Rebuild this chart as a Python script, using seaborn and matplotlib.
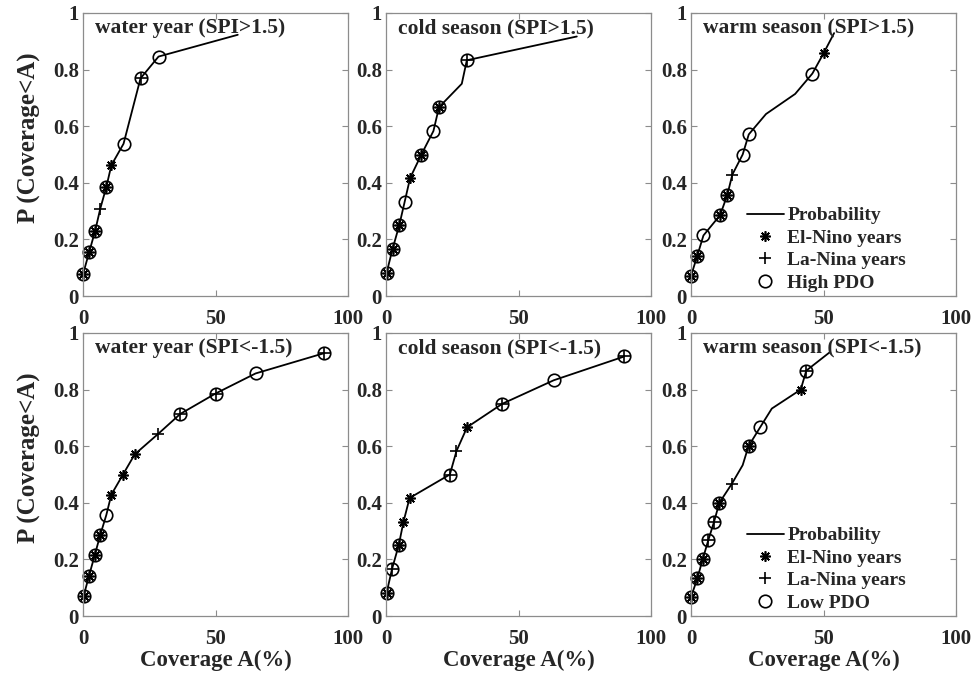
import matplotlib
matplotlib.use("Agg")
import matplotlib.pyplot as plt
from matplotlib.lines import Line2D
import seaborn as sns
import pandas as pd

# ---------------- data ----------------
titles = ["water year (SPI>1.5)", "cold season (SPI>1.5)", "warm season (SPI>1.5)",
          "water year (SPI<-1.5)", "cold season (SPI<-1.5)", "warm season (SPI<-1.5)"]

cov1 = [0.0, 2.3, 4.6, 6.5, 8.8, 10.7, 15.3, 21.7, 28.5, 58.4]
prob1 = [0.077, 0.154, 0.231, 0.308, 0.385, 0.462, 0.538, 0.769, 0.846, 0.923]
enso1 = ['E', 'E', 'E', 'L', 'E', 'E', '', 'L', '', '']
pdo1 = [1, 1, 1, 0, 1, 0, 1, 1, 1, 0]

cov2 = [0.25, 2.5, 5.0, 7.05, 9.1, 13.35, 17.9, 20.0, 28.6, 30.5, 72.0]
prob2 = [0.083, 0.167, 0.25, 0.333, 0.417, 0.5, 0.583, 0.667, 0.75, 0.833, 0.917]
enso2 = ['E', 'E', 'E', '', 'E', 'E', '', 'E', '', 'L', '']
pdo2 = [1, 1, 1, 1, 0, 1, 1, 1, 0, 1, 0]

cov3 = [0.0, 2.4, 4.7, 11.0, 13.7, 15.6, 19.5, 21.8, 28.3, 39.3, 45.8, 50.0, 54.0]
prob3 = [0.071, 0.143, 0.214, 0.286, 0.357, 0.429, 0.5, 0.571, 0.643, 0.714, 0.786, 0.857, 0.929]
enso3 = ['E', 'E', '', 'E', 'E', 'L', '', '', '', '', '', 'E', '']
pdo3 = [1, 1, 1, 1, 1, 0, 1, 1, 0, 0, 1, 0, 0]

cov4 = [0.25, 2.3, 4.4, 6.5, 8.8, 10.7, 15.1, 19.5, 28.3, 36.7, 50.0, 65.1, 91.1]
prob4 = [0.071, 0.143, 0.214, 0.286, 0.357, 0.429, 0.5, 0.571, 0.643, 0.714, 0.786, 0.857, 0.929]
enso4 = ['E', 'E', 'E', 'E', '', 'E', 'E', 'E', 'L', 'L', 'L', '', 'L']
pdo4 = [1, 1, 1, 1, 1, 0, 0, 0, 0, 1, 1, 1, 1]

cov5 = [0.25, 2.3, 4.8, 6.6, 8.9, 24.1, 26.6, 30.6, 43.9, 63.3, 89.9]
prob5 = [0.083, 0.167, 0.25, 0.333, 0.417, 0.5, 0.583, 0.667, 0.75, 0.833, 0.917]
enso5 = ['E', 'L', 'E', 'E', 'E', 'L', 'L', 'E', 'L', '', 'L']
pdo5 = [1, 1, 1, 0, 0, 1, 0, 0, 1, 1, 1]

cov6 = [0.0, 2.4, 4.4, 6.5, 8.7, 10.7, 15.4, 19.5, 21.7, 26.1, 30.5, 41.4, 43.5, 52.5]
prob6 = [0.067, 0.133, 0.2, 0.267, 0.333, 0.4, 0.467, 0.533, 0.6, 0.667, 0.733, 0.8, 0.867, 0.933]
enso6 = ['E', 'E', 'E', 'L', 'L', 'E', 'L', '', 'E', '', '', 'E', 'L', '']
pdo6 = [1, 1, 1, 1, 1, 1, 0, 0, 1, 1, 0, 0, 1, 0]

legend_labels_top = ["Probability", "El-Nino years", "La-Nina years", "High PDO"]
legend_labels_bot = ["Probability", "El-Nino years", "La-Nina years", "Low PDO"]
xticks = [0, 50, 100]
xticklabels = ["0", "50", "100"]
yticks = [0, 0.2, 0.4, 0.6, 0.8, 1.0]
yticklabels = ["0", "0.2", "0.4", "0.6", "0.8", "1"]

panels = [(cov1, prob1, enso1, pdo1), (cov2, prob2, enso2, pdo2), (cov3, prob3, enso3, pdo3),
          (cov4, prob4, enso4, pdo4), (cov5, prob5, enso5, pdo5), (cov6, prob6, enso6, pdo6)]

# ---------------- style ----------------
sns.set_style("ticks")
plt.rcParams['font.family'] = ['Liberation Serif', 'DejaVu Serif']
plt.rcParams['font.weight'] = 'bold'

W, H = 972, 674
fig = plt.figure(figsize=(W / 100, H / 100), dpi=100)

col_left = [83, 386, 691]
row_bottom = [296, 616]
aw, ah = 265, 283
spine_col = '#8c8c8c'
ASTER = (8, 2, 0)

for i, (cov, prob, enso, pdo) in enumerate(panels):
    r, c = divmod(i, 3)
    ax = fig.add_axes([col_left[c] / W, 1 - row_bottom[r] / H, aw / W, ah / H])
    df = pd.DataFrame({"cov": cov, "prob": prob})
    sns.lineplot(data=df, x="cov", y="prob", sort=False, estimator=None,
                 color='black', lw=1.3, ax=ax)
    ex = [x for x, e in zip(cov, enso) if e == 'E']
    ey = [y for y, e in zip(prob, enso) if e == 'E']
    lx = [x for x, e in zip(cov, enso) if e == 'L']
    ly = [y for y, e in zip(prob, enso) if e == 'L']
    px = [x for x, p in zip(cov, pdo) if p]
    py = [y for y, p in zip(prob, pdo) if p]
    ax.plot(ex, ey, ls='none', marker=ASTER, ms=7.5, mec='black', mew=1.2, clip_on=False)
    ax.plot(lx, ly, ls='none', marker='+', ms=8.5, mec='black', mew=1.2, clip_on=False)
    ax.plot(px, py, ls='none', marker='o', ms=9, mfc='none', mec='black', mew=1.2,
            clip_on=False)

    ax.set_xlim(0, 100)
    ax.set_ylim(0, 1)
    ax.set_xticks(xticks)
    ax.set_xticklabels(xticklabels)
    ax.set_yticks(yticks)
    ax.set_yticklabels(yticklabels)
    ax.tick_params(direction='in', top=True, right=True, length=4, width=0.8,
                   color=spine_col, labelsize=15)
    ax.tick_params(axis='x', pad=9)
    ax.tick_params(axis='y', pad=3)
    for lab in ax.get_xticklabels() + ax.get_yticklabels():
        lab.set_fontweight('bold')
    for s in ax.spines.values():
        s.set_visible(True)
        s.set_color(spine_col)
        s.set_linewidth(0.9)

    ax.text(0.047, 0.947, titles[i], transform=ax.transAxes, fontsize=15.5,
            fontweight='bold', ha='left', va='center')

    if c == 0:
        ax.set_ylabel("P (Coverage<A)", fontsize=18, fontweight='bold')
        ax.yaxis.set_label_coords(-0.16, 0.56)
    else:
        ax.set_ylabel("")
    if r == 1:
        ax.set_xlabel("Coverage A(%)", fontsize=16.5, fontweight='bold', labelpad=1)
    else:
        ax.set_xlabel("")

    if c == 2:
        labels = legend_labels_top if r == 0 else legend_labels_bot
        handles = [Line2D([], [], color='black', lw=1.3),
                   Line2D([], [], ls='none', marker=ASTER, ms=7.5, mec='black', mew=1.2),
                   Line2D([], [], ls='none', marker='+', ms=8.5, mec='black', mew=1.2),
                   Line2D([], [], ls='none', marker='o', ms=9, mfc='none', mec='black', mew=1.2)]
        ax.legend(handles, labels, loc='lower left', bbox_to_anchor=(0.21, 0.015),
                  frameon=False, borderpad=0, borderaxespad=0, handlelength=1.9,
                  handletextpad=0.2, labelspacing=0.25,
                  prop={'family': ['Liberation Serif'], 'weight': 'bold', 'size': 14})

fig.savefig("out.png", dpi=100)
